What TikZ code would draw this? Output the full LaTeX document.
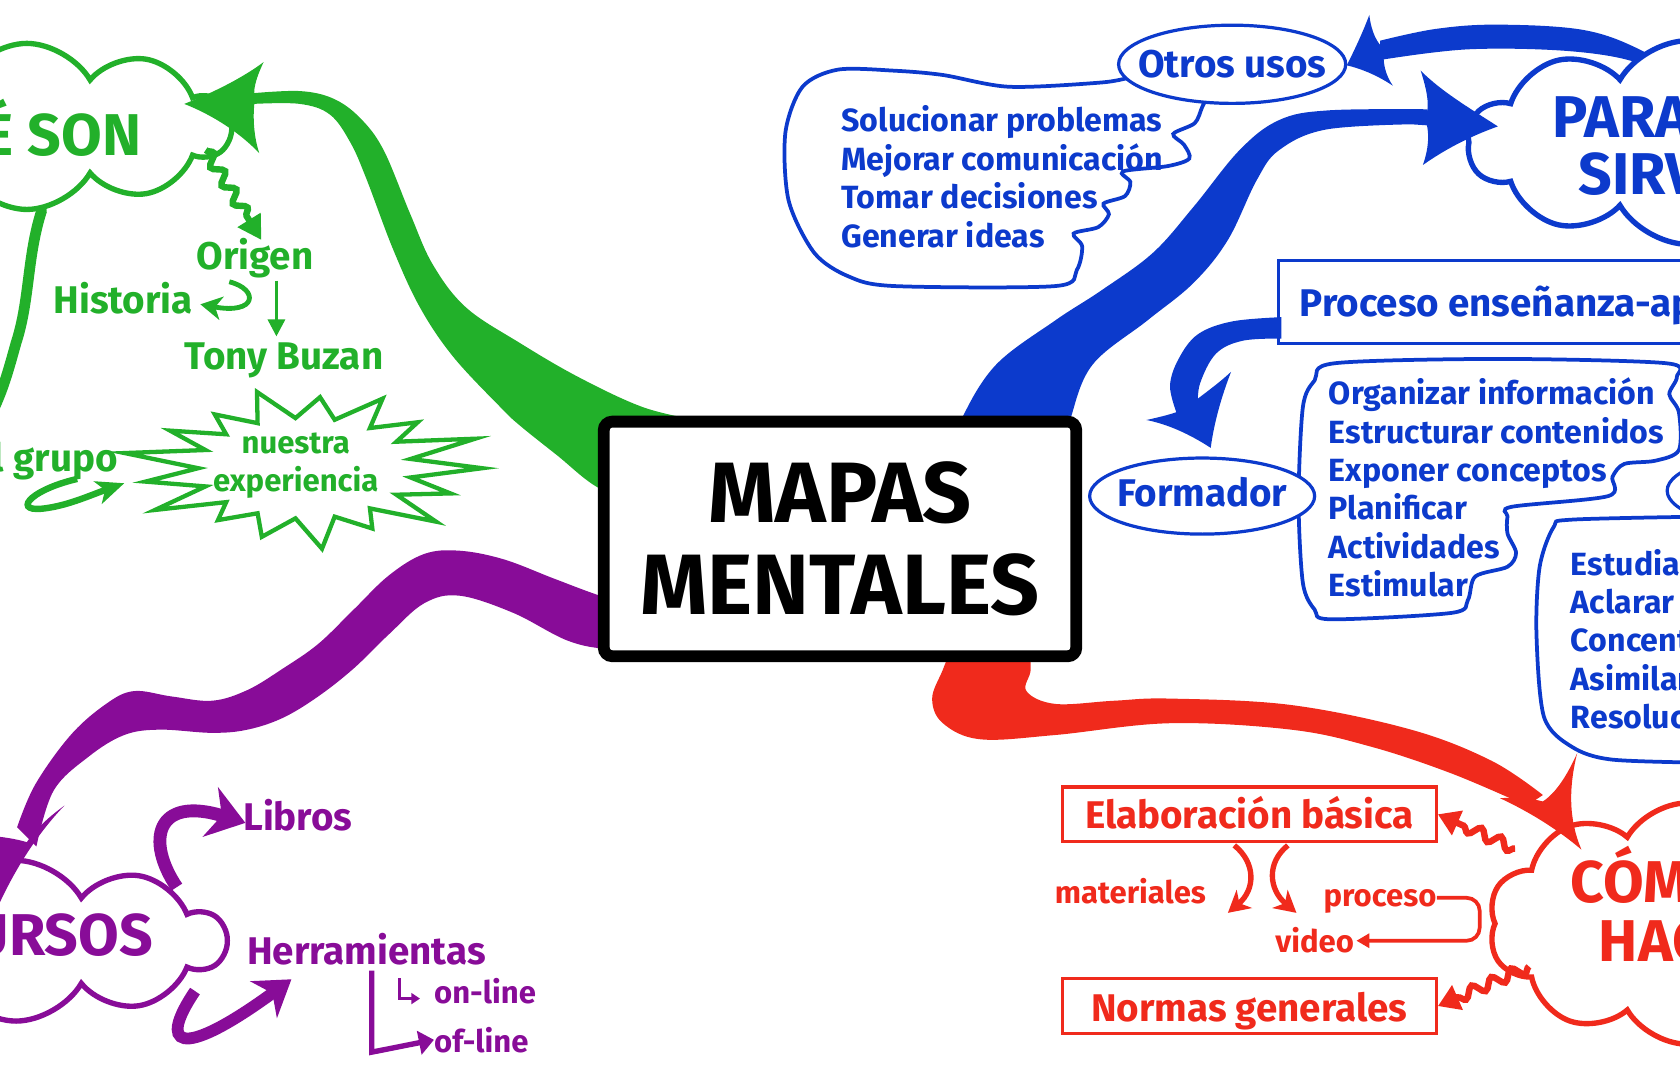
\documentclass[tikz,border=0pt]{standalone}
\usepackage{fontspec}
\setmainfont{Fira Sans}
\usetikzlibrary{shapes.symbols,shapes.geometric,arrows.meta,decorations.pathmorphing}
\definecolor{qgreen}{RGB}{34,176,42}
\definecolor{qblue}{RGB}{12,58,204}
\definecolor{qpurple}{RGB}{136,12,152}
\definecolor{qred}{RGB}{240,42,28}
\begin{document}
\begin{tikzpicture}[x=1pt,y=-1pt,
  ttl/.style={inner sep=0pt, font=\bfseries\fontsize{55}{58}\selectfont},
  lbl/.style={inner sep=0pt, font=\bfseries\fontsize{36}{40}\selectfont},
  lst/.style={inner sep=0pt, font=\bfseries\fontsize{30}{36}\selectfont},
  sml/.style={inner sep=0pt, font=\bfseries\fontsize{29}{34}\selectfont},
  cloudnode/.style={cloud, cloud puffs=10, cloud puff arc=120, cloud ignores aspect, draw, line width=5pt, fill=white, inner sep=0pt},
  ovalnode/.style={ellipse, draw=qblue, line width=3pt, fill=white, inner sep=0pt},
  boxnode/.style={draw, line width=3pt, fill=white, inner sep=0pt},
  wavy/.style={decorate, decoration={snake, amplitude=5pt, segment length=20pt, post length=20pt}},
  bubble/.style={draw=qblue, line width=3.5pt, fill=white}
]
\useasboundingbox (0,0) rectangle (1568,1008);
\clip (0,0) rectangle (1568,1008);

% ---------- blue band from cloud to "Otros usos" (under the cloud)
\fill[qblue] plot[smooth, tension=0.6] coordinates {(1288,38) (1340,27) (1398,23) (1478,28) (1532,47) (1575,75)}
  -- plot[smooth, tension=0.6] coordinates {(1565,85) (1532,60) (1468,48) (1371,46) (1288,56)} -- cycle;

% ---------- clouds
\node[cloudnode, draw=qgreen, minimum width=380pt, minimum height=155pt] (queson) at (25,118) {};
\node[cloudnode, draw=qpurple, minimum width=390pt, minimum height=150pt] (recursos) at (15,878) {};
\node[cloudnode, draw=qblue, minimum width=410pt, minimum height=190pt] (para) at (1575,133) {};
\node[cloudnode, draw=qred, minimum width=370pt, minimum height=225pt] (como) at (1574,862) {};

% ---------- blue bubbles, ovals, boxes
\draw[bubble] plot[smooth, tension=0.5] coordinates {(1055,72) (1028,77) (942,81) (880,70) (835,66) (782,65) (749,81) (733,124) (736,187) (760,236) (792,258) (835,267) (985,267) (1005,252) (1010,230) (1002,218) (1025,212) (1035,200) (1030,190) (1050,183) (1055,170) (1048,160) (1090,155) (1110,148) (1105,135) (1095,125) (1115,115) (1122,100) (1128,88)};
\node[ovalnode, minimum width=212pt, minimum height=73pt] (otros) at (1150,60) {};

\draw[bubble] plot[smooth cycle, tension=0.5] coordinates {(1246,339) (1400,335) (1555,339) (1565,352) (1558,368) (1567,385) (1567,420) (1545,430) (1516,433) (1505,445) (1501,463) (1411,473) (1407,482) (1407,498) (1415,516) (1407,529) (1377,538) (1370,560) (1355,572) (1242,578) (1227,569) (1216,544) (1212,467) (1216,380) (1227,355)};
\draw[bubble] plot[smooth, tension=0.5] coordinates {(1600,482) (1467,485) (1450,492) (1437,529) (1434,591) (1441,669) (1467,697) (1505,709) (1600,712)};
\node[ovalnode, minimum width=210pt, minimum height=71pt] (formador) at (1122,463) {};
\node[ovalnode, minimum width=220pt, minimum height=72pt] (alumno) at (1666,458) {};
\node[boxnode, draw=qblue, anchor=west, minimum width=460pt, minimum height=77pt] (procbox) at (1192,282) {};

\node[boxnode, draw=qred, minimum width=349pt, minimum height=51pt] (elab) at (1166,760) {};
\node[boxnode, draw=qred, minimum width=349pt, minimum height=51pt] (normas) at (1166,939) {};

% ---------- green star
\draw[qgreen, line width=4pt, fill=white, shift={(285,437)}] (0:165 and 74)
  \foreach \k/\ro in {1/0.88,2/1.0,3/0.85,4/1.02,5/0.9,6/0.82,7/1.0,8/0.92,9/1.04,10/0.9,11/0.85,12/1.0,13/0.9,14/0.98,15/0.86,16/1.03,17/1.0}
  { -- ({(\k-0.5)*360/17}:100 and 47) -- ({\k*360/17}:{165*\ro} and {74*\ro}) } -- cycle;
\node[sml, text=qgreen, anchor=base] (nuestra) at (276,423) {nuestra};
\node[sml, text=qgreen, anchor=base] (experiencia) at (276,459) {experiencia};

% ---------- main bands
% green
\fill[qgreen] plot[smooth, tension=0.6] coordinates {(236,87) (280,85) (311,92) (336,110) (358,140) (383,200) (404,247) (435,287) (485,320) (540,352) (600,380) (650,392)}
  -- (650,470) -- plot[smooth, tension=0.6] coordinates {(600,470) (558,455) (520,425) (485,397) (467,380) (423,333) (392,287) (367,233) (342,167) (327,133) (308,107) (280,97) (236,97)} -- cycle;
\fill[qgreen] (172,97) .. controls (205,84) and (230,70) .. (246,58) .. controls (238,75) and (236,85) .. (238,92)
  .. controls (236,105) and (236,125) .. (242,143) .. controls (225,125) and (200,108) .. (172,97) -- cycle;
% purple
\fill[qpurple] plot[smooth, tension=0.6] coordinates {(620,575) (560,556) (517,540) (470,522) (429,514) (396,517) (363,537) (330,569) (297,601) (264,624) (231,644) (198,654) (160,650) (125,645) (99,657) (66,686) (33,732) (16,772)}
  -- plot[smooth, tension=0.6] coordinates {(34,790) (50,738) (83,706) (116,686) (149,681) (198,684) (231,681) (264,670) (297,650) (330,624) (363,592) (396,563) (429,556) (479,572) (530,598) (570,606) (620,606)} -- cycle;
\fill[qpurple] (0,842) .. controls (15,810) and (35,778) .. (60,752) .. controls (42,765) and (32,776) .. (25,786)
  .. controls (5,780) and (-25,778) .. (-50,780) .. controls (-30,798) and (-12,820) .. (0,842) -- cycle;
% blue
\fill[qblue] plot[smooth, tension=0.6] coordinates {(890,420) (899,388) (930,340) (985,299) (1028,271) (1076,236) (1114,193) (1157,140) (1194,112) (1240,103) (1332,102)}
  -- (1332,117) -- plot[smooth, tension=0.6] coordinates {(1317,116) (1237,121) (1194,140) (1173,168) (1146,224) (1114,264) (1071,299) (1020,340) (1000,388) (995,420)} -- cycle;
\fill[qblue] (1398,118) .. controls (1370,100) and (1345,85) .. (1326,66) .. controls (1332,85) and (1335,100) .. (1330,110)
  .. controls (1335,125) and (1333,140) .. (1328,154) .. controls (1348,140) and (1370,128) .. (1398,118) -- cycle;
\fill[qblue] (1257,61) .. controls (1265,45) and (1272,30) .. (1278,14) .. controls (1280,30) and (1285,40) .. (1292,46)
  .. controls (1290,58) and (1293,70) .. (1300,80) .. controls (1285,70) and (1270,64) .. (1257,61) -- cycle;
% blue: Proceso -> Formador
\fill[qblue] plot[smooth, tension=0.6] coordinates {(1196,296) (1150,300) (1118,312) (1100,335) (1092,360) (1098,385)}
  -- plot[smooth, tension=0.6] coordinates {(1118,380) (1120,358) (1135,330) (1160,318) (1196,316)} -- cycle;
\fill[qblue] (1130,418) .. controls (1110,405) and (1090,396) .. (1070,392) .. controls (1088,388) and (1100,385) .. (1108,380)
  .. controls (1120,370) and (1135,360) .. (1149,347) .. controls (1140,370) and (1133,395) .. (1130,418) -- cycle;
% red
\fill[qred] plot[smooth, tension=0.6] coordinates {(960,600) (962,625) (958,645) (985,657) (1040,654) (1092,652) (1205,658) (1317,681) (1392,710) (1440,742)}
  -- plot[smooth, tension=0.6] coordinates {(1425,752) (1355,722) (1280,697) (1205,681) (1092,675) (985,686) (915,690) (880,675) (870,652) (880,625) (890,600)} -- cycle;
\fill[qred] (1476,793) .. controls (1464,765) and (1464,735) .. (1472,703) .. controls (1462,725) and (1452,740) .. (1440,748)
  .. controls (1428,745) and (1415,744) .. (1400,745) .. controls (1428,758) and (1455,775) .. (1476,793) -- cycle;

% ---------- central box
\node[draw=black, line width=11pt, rounded corners=8pt, fill=white, minimum width=441pt, minimum height=219pt,
  align=center, font=\bfseries\fontsize{80}{86}\selectfont] (mapas) at (784,503) {MAPAS\\MENTALES};

% ---------- cloud titles
\node[ttl, text=qgreen, anchor=base east] (tqueson) at (132,145) {QUÉ SON};
\node[ttl, text=qpurple, anchor=base east] (trecursos) at (143,892) {RECURSOS};
\node[ttl, text=qblue, anchor=base west] (tpara1) at (1449,128) {PARA QUÉ};
\node[ttl, text=qblue, anchor=base west] (tpara2) at (1473,182) {SIRVEN};
\node[ttl, text=qred, anchor=base west] (tcomo1) at (1466,842) {CÓMO SE};
\node[ttl, text=qred, anchor=base west] (tcomo2) at (1492,897) {HACEN};

% ---------- green details
\draw[qgreen, line width=10pt, line cap=round] (queson.-80) .. controls (25,240) and (28,280) .. (15,320) .. controls (8,345) and (4,360) .. (-5,380);
\node[lbl, text=qgreen, anchor=base] (origen) at (238,252) {Origen};
\node[lbl, text=qgreen, anchor=base] (historia) at (115,293) {Historia};
\node[lbl, text=qgreen, anchor=base] (tony) at (265,345) {Tony Buzan};
\node[lbl, text=qgreen, anchor=base east] (grupo) at (110,440) {el grupo};
\draw[qgreen, line width=6pt, wavy, -{Triangle[length=22pt,width=24pt]}] (192,140) -- (244,224);
\draw[qgreen, line width=4.5pt, -{Stealth[length=20pt,width=22pt,inset=6pt]}] (214,263) .. controls (242,270) and (240,294) .. (187,284);
\draw[qgreen, line width=3pt, -{Triangle[length=16pt,width=16pt]}] (258,262) -- (258,314);
\draw[qgreen, line width=6pt, -{Stealth[length=26pt,width=22pt,inset=7pt]}] (72,447) .. controls (25,458) and (10,480) .. (45,474) .. controls (65,471) and (85,462) .. (116,451);

% ---------- purple details
\node[lbl, text=qpurple, anchor=base] (libros) at (278,775) {Libros};
\node[lbl, text=qpurple, anchor=base] (herr) at (342,900) {Herramientas};
\node[sml, text=qpurple, anchor=base west] (online) at (405,937) {on-line};
\node[sml, text=qpurple, anchor=base west] (ofline) at (405,982) {of-line};
\draw[qpurple, line width=12pt, -{Stealth[length=34pt,width=48pt,inset=11pt]}] (165,828) .. controls (136,785) and (145,742) .. (229,768);
\draw[qpurple, line width=11pt, -{Stealth[length=32pt,width=42pt,inset=10pt]}] (182,925) .. controls (148,975) and (165,992) .. (272,914);
\draw[qpurple, line width=5pt, -{Triangle[length=14pt,width=22pt]}] (347,906) -- (347,982) -- (ofline.west);
\draw[qpurple, line width=3pt, -{Triangle[length=8pt,width=10pt]}] (373,913) -- (373,932) -- (392,932);

% ---------- blue texts
\node[lbl, text=qblue, anchor=base] (totros) at (otros.center |- 0,72) {Otros usos};
\node[lbl, text=qblue, anchor=base] (tform) at (formador.center |- 0,473) {Formador};
\node[lbl, text=qblue, anchor=base west] (tproc) at (1213,295) {Proceso enseñanza-aprendizaje};
\foreach \t [count=\i] in {Solucionar problemas, Mejorar comunicación, Tomar decisiones, Generar ideas}
  \node[lst, text=qblue, anchor=base west] (uso\i) at (785,87+36*\i) {\t};
\foreach \t [count=\i] in {Organizar información, Estructurar contenidos, Exponer conceptos, Planificar, Actividades, Estimular}
  \node[lst, text=qblue, anchor=base west] (form\i) at (1240,342+35.8*\i) {\t};
\foreach \t [count=\i] in {Estudiar, Aclarar dudas, Concentración, Asimilar, Resolución}
  \node[lst, text=qblue, anchor=base west] (alum\i) at (1466,501+35.8*\i) {\t};

% ---------- red details
\node[lbl, text=qred, anchor=base] (telab) at (elab.center |- 0,773) {Elaboración básica};
\node[lbl, text=qred, anchor=base] (tnormas) at (normas.center |- 0,953) {Normas generales};
\node[sml, text=qred, anchor=base] (materiales) at (1055,843) {materiales};
\node[sml, text=qred, anchor=base] (proceso) at (1288,846) {proceso};
\node[sml, text=qred, anchor=base] (video) at (1227,889) {video};
\draw[qred, line width=6pt, wavy, -{Triangle[length=20pt,width=24pt]}] (1414,792) -- (elab.east);
\draw[qred, line width=6pt, wavy, -{Triangle[length=20pt,width=24pt]}] (1427,902) -- (normas.east);
\draw[qred, line width=5pt, -{Stealth[length=20pt,width=22pt,inset=6pt]}] (1152,789) .. controls (1172,805) and (1172,830) .. (1146,852);
\draw[qred, line width=5pt, -{Stealth[length=20pt,width=22pt,inset=6pt]}] (1202,789) .. controls (1182,805) and (1184,830) .. (1210,852);
\draw[qred, line width=3.5pt, rounded corners=12pt, -{Triangle[length=12pt,width=13pt]}] (1341,838) -- (1381,838) -- (1381,878) -- (1266,878);
\end{tikzpicture}
\end{document}
